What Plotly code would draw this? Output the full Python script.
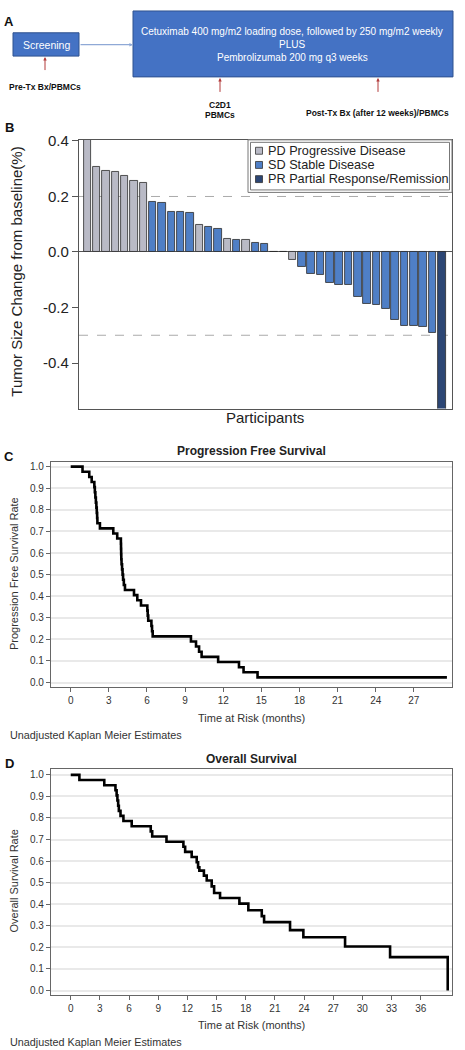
import plotly.graph_objects as go

W, H = 465, 1050


def X(px):
    return px / W


def Y(py):
    return 1 - py / H


FONT = "Arial, Liberation Sans, sans-serif"

# ---------------- Panel B data (waterfall) ----------------
participants = [1, 2, 3, 4, 5, 6, 7, 8, 9, 10, 11, 12, 13, 14, 15, 16, 17, 18, 19, 20,
                21, 22, 23, 24, 25, 26, 27, 28, 29, 30, 31, 32, 33, 34, 35, 36, 37, 38, 39]
tumor_change = [0.406, 0.307, 0.293, 0.289, 0.276, 0.255, 0.250, 0.181, 0.176, 0.145,
                0.143, 0.142, 0.099, 0.090, 0.083, 0.048, 0.043, 0.042, 0.033, 0.029,
                0.0, 0.0, -0.029, -0.052, -0.080, -0.083, -0.112, -0.119, -0.119, -0.160,
                -0.188, -0.190, -0.205, -0.243, -0.265, -0.266, -0.270, -0.292, -0.600]
response = ["PD", "PD", "PD", "PD", "PD", "PD", "PD", "SD", "SD", "SD",
            "SD", "SD", "PD", "SD", "SD", "PD", "SD", "PD", "SD", "SD",
            "SD", "SD", "PD", "SD", "SD", "SD", "SD", "SD", "SD", "SD",
            "SD", "SD", "SD", "SD", "SD", "SD", "SD", "SD", "PR"]
response_labels = {"PD": "PD Progressive Disease",
                   "SD": "SD Stable Disease",
                   "PR": "PR Partial Response/Remission"}
response_colors = {"PD": "#b9bac6", "SD": "#4f7fc6", "PR": "#2c4674"}

# ---------------- Panel C data (PFS Kaplan-Meier) ----------------
pfs_time = [0, 0.93, 1.46, 1.65, 1.86, 1.90, 1.94, 1.98, 2.02, 2.05, 2.08, 2.10, 2.30,
            3.35, 3.66, 3.95, 3.96, 3.97, 3.98, 4.00, 4.04, 4.08, 4.12, 4.18, 4.27,
            4.98, 5.24, 5.53, 6.03, 6.06, 6.10, 6.35, 6.40, 6.45, 9.46, 9.86, 10.10,
            10.30, 11.60, 13.24, 13.60, 14.70, 29.6]
pfs_surv = [1.0, 0.976, 0.952, 0.929, 0.905, 0.881, 0.857, 0.833, 0.810, 0.786, 0.762,
            0.738, 0.714, 0.690, 0.667, 0.643, 0.619, 0.595, 0.571, 0.548, 0.524, 0.500,
            0.476, 0.452, 0.429, 0.405, 0.381, 0.357, 0.333, 0.310, 0.286, 0.262, 0.238,
            0.214, 0.190, 0.167, 0.143, 0.119, 0.095, 0.071, 0.048, 0.024, 0.024]

# ---------------- Panel D data (OS Kaplan-Meier) ----------------
os_time = [0, 0.89, 3.45, 4.60, 4.72, 4.80, 4.88, 4.95, 5.12, 5.42, 6.27, 8.23, 8.38,
           9.85, 11.59, 11.77, 12.44, 12.96, 13.10, 13.23, 13.70, 13.99, 14.50, 14.75,
           15.36, 17.35, 18.27, 19.65, 19.89, 22.56, 23.93, 28.22, 32.85, 38.78]
os_surv = [1.0, 0.976, 0.952, 0.929, 0.905, 0.881, 0.857, 0.833, 0.810, 0.786, 0.762,
           0.738, 0.714, 0.690, 0.667, 0.643, 0.619, 0.595, 0.571, 0.556, 0.533, 0.510,
           0.483, 0.452, 0.429, 0.403, 0.372, 0.345, 0.317, 0.280, 0.247, 0.204, 0.155,
           0.0]

pfs_ticks = [0, 3, 6, 9, 12, 15, 18, 21, 24, 27]
os_ticks = [0, 3, 6, 9, 12, 15, 18, 21, 24, 27, 30, 33, 36]
rate_ticks = [0.0, 0.1, 0.2, 0.3, 0.4, 0.5, 0.6, 0.7, 0.8, 0.9, 1.0]
b_tickvals = [0.4, 0.2, 0.0, -0.2, -0.4]
b_ticktext = ["0.4", "0.2", "0.0", "-0.2", "-0.4"]

fig = go.Figure()

for status in ["PD", "SD", "PR"]:
    xs = [p for p, r in zip(participants, response) if r == status]
    ys = [v for v, r in zip(tumor_change, response) if r == status]
    fig.add_trace(go.Bar(
        x=xs, y=ys, name=response_labels[status],
        marker=dict(color=response_colors[status], line=dict(color="#2b2b2b", width=0.8)),
        width=0.79, xaxis="x", yaxis="y", showlegend=False,
    ))

fig.add_trace(go.Scatter(x=pfs_time, y=pfs_surv, mode="lines", line_shape="hv",
                         line=dict(color="black", width=2.6), xaxis="x2", yaxis="y2",
                         showlegend=False))
fig.add_trace(go.Scatter(x=os_time, y=os_surv, mode="lines", line_shape="hv",
                         line=dict(color="black", width=2.6), xaxis="x3", yaxis="y3",
                         showlegend=False))

km_axis_common = dict(showline=True, mirror=True, linecolor="#666", linewidth=1.2,
                      ticks="outside", ticklen=4, tickcolor="#666",
                      tickfont=dict(family=FONT, size=10, color="#333"), zeroline=False)

fig.update_layout(
    width=W, height=H, margin=dict(l=0, r=0, t=0, b=0),
    paper_bgcolor="white", plot_bgcolor="white", showlegend=False, bargap=0,
    font=dict(family=FONT),
    xaxis=dict(domain=[X(79), X(452)], range=[0.12, 40.09], showticklabels=False,
               ticks="", showline=True, mirror=True, linecolor="#555", linewidth=1.2,
               showgrid=False, zeroline=False, anchor="y"),
    yaxis=dict(domain=[Y(404), Y(133)], range=[-0.564, 0.404], tickvals=b_tickvals,
               ticktext=b_ticktext, ticks="outside", ticklen=6, tickcolor="#555",
               tickfont=dict(family=FONT, size=15, color="#222"),
               showline=True, mirror=True, linecolor="#555", linewidth=1.2,
               showgrid=False, zeroline=True, zerolinecolor="#555", zerolinewidth=1.2,
               anchor="x"),
    xaxis2=dict(domain=[X(51), X(452)], range=[-1.55, 30.0], tickvals=pfs_ticks,
                showgrid=False, anchor="y2", **km_axis_common),
    yaxis2=dict(domain=[Y(685), Y(458)], range=[-0.021, 1.021], tickvals=rate_ticks,
                tickformat=".1f", showgrid=True, gridcolor="#e9e9e9", gridwidth=1.5,
                anchor="x2", **km_axis_common),
    xaxis3=dict(domain=[X(51), X(452)], range=[-2.03, 39.22], tickvals=os_ticks,
                showgrid=False, anchor="y3", **km_axis_common),
    yaxis3=dict(domain=[Y(995.7), Y(768)], range=[-0.0216, 1.0253], tickvals=rate_ticks,
                tickformat=".1f", showgrid=True, gridcolor="#e9e9e9", gridwidth=1.5,
                anchor="x3", **km_axis_common),
)

shapes = []
annotations = []


def text(s, px, py, size, color="#222", bold=False, xanchor="center", angle=0):
    if bold:
        s = "<b>" + s + "</b>"
    annotations.append(dict(text=s, x=X(px), y=Y(py), xref="paper", yref="paper",
                            xanchor=xanchor, yanchor="middle", showarrow=False,
                            textangle=angle, font=dict(family=FONT, size=size, color=color)))


def arrow(px0, py0, px1, py1, color, width=1.0, size=0.7):
    annotations.append(dict(text="", x=X(px1), y=Y(py1), ax=px0 - px1, ay=py0 - py1,
                            xref="paper", yref="paper", axref="pixel", ayref="pixel",
                            showarrow=True, arrowhead=2, arrowsize=size,
                            arrowwidth=width, arrowcolor=color))


# ---------------- Panel A (schema) ----------------
shapes.append(dict(type="rect", xref="paper", yref="paper", x0=X(13), x1=X(79),
                   y0=Y(48.5), y1=Y(25), fillcolor="#4472c4",
                   line=dict(color="#2f528f", width=1)))
shapes.append(dict(type="rect", xref="paper", yref="paper", x0=X(133), x1=X(453),
                   y0=Y(69.5), y1=Y(3), fillcolor="#4472c4",
                   line=dict(color="#2f528f", width=1)))
arrow(79, 37, 133, 37, "#8fa9d6", 1.2, 0.6)
arrow(45, 64, 45, 49.5, "#b23a3a", 1.0, 0.7)
arrow(220, 86, 220, 70.5, "#b23a3a", 1.0, 0.7)
arrow(378, 86, 378, 70.5, "#b23a3a", 1.0, 0.7)

text("A", 9, 14, 13, "#111", bold=True)
text("Screening", 46, 37, 10.5, "white")
text("Cetuximab 400 mg/m2 loading dose, followed by 250 mg/m2 weekly", 292, 24, 10, "white")
text("PLUS", 292, 36.5, 10, "white")
text("Pembrolizumab 200 mg q3 weeks", 292, 50, 10, "white")
text("Pre-Tx Bx/PBMCs", 45, 80, 8.5, "#111", bold=True)
text("C2D1", 220, 98, 8.5, "#111", bold=True)
text("PBMCs", 220, 108, 8.5, "#111", bold=True)
text("Post-Tx Bx (after 12 weeks)/PBMCs", 377, 106, 8.5, "#111", bold=True)

# ---------------- Panel B annotations ----------------
text("B", 9, 121, 13, "#111", bold=True)
text("Tumor Size Change from baseline(%)", 17, 266, 15, "#222", angle=-90)
text("Participants", 265, 413, 15, "#222")
for yv in [0.2, -0.3]:
    shapes.append(dict(type="line", xref="x domain", yref="y", x0=0, x1=1, y0=yv, y1=yv,
                       line=dict(color="#aaaaaa", width=1, dash="dash"), layer="below"))

# legend box (double frame)
shapes.append(dict(type="rect", xref="paper", yref="paper", x0=X(248), x1=X(452),
                   y0=Y(186), y1=Y(133), fillcolor="white",
                   line=dict(color="#777", width=1)))
shapes.append(dict(type="rect", xref="paper", yref="paper", x0=X(250.5), x1=X(449.5),
                   y0=Y(183.5), y1=Y(135.5), line=dict(color="#777", width=1)))
for i, status in enumerate(["PD", "SD", "PR"]):
    cy = 144 + i * 14.3
    shapes.append(dict(type="rect", xref="paper", yref="paper", x0=X(255.5), x1=X(262.5),
                       y0=Y(cy + 3.5), y1=Y(cy - 3.5), fillcolor=response_colors[status],
                       line=dict(color="#333", width=0.8)))
    text(response_labels[status], 266, cy, 12.7, "#222", xanchor="left")

# ---------------- Panel C annotations ----------------
text("C", 9, 452, 13, "#111", bold=True)
text("Progression Free Survival", 251.5, 447, 12, "#222", bold=True)
text("Progression Free Survival Rate", 14, 571, 11, "#333", angle=-90)
text("Time at Risk (months)", 251.5, 716, 11, "#333")
text("Unadjusted Kaplan Meier Estimates", 8, 733, 10.8, "#333", xanchor="left")

# ---------------- Panel D annotations ----------------
text("D", 9, 762, 13, "#111", bold=True)
text("Overall Survival", 251.5, 757, 12, "#222", bold=True)
text("Overall Survival Rate", 14, 881, 11, "#333", angle=-90)
text("Time at Risk (months)", 251.5, 1026, 11, "#333")
text("Unadjusted Kaplan Meier Estimates", 8, 1042.5, 10.8, "#333", xanchor="left")

fig.update_layout(shapes=shapes, annotations=annotations)

fig.write_html("out.html",
               config={"displayModeBar": False},
               post_script="document.body.style.margin='0';"
                           "document.body.style.overflow='hidden';")
